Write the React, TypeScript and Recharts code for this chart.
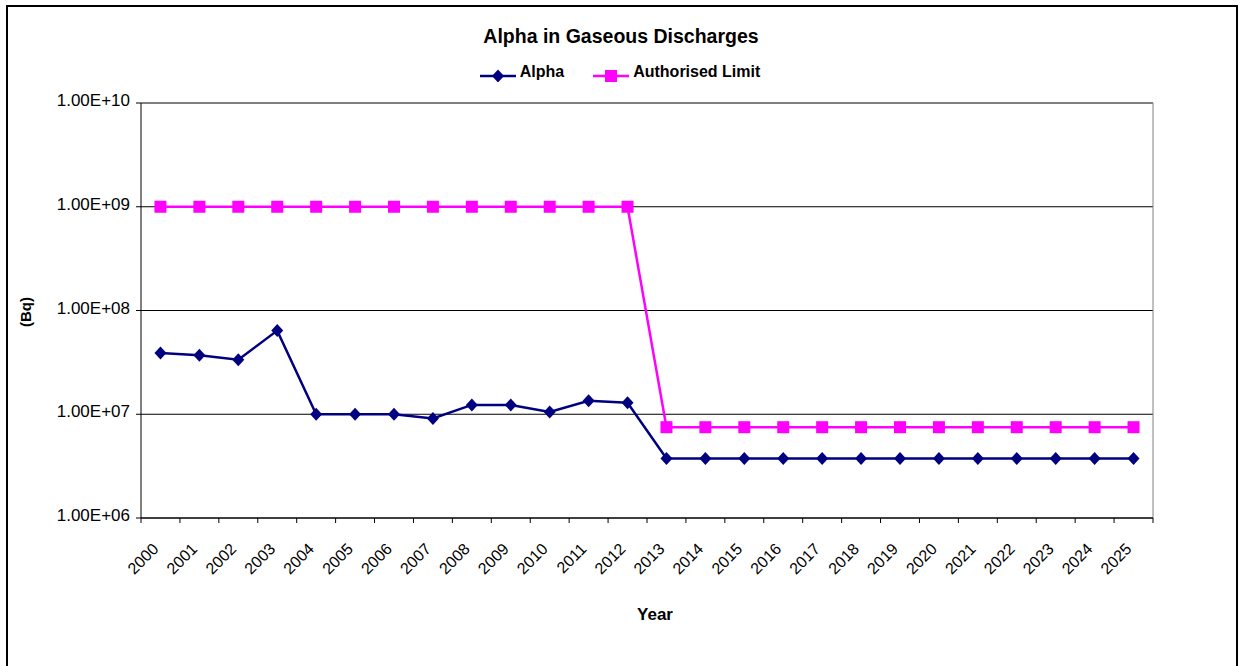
import React from 'react';
import {
  LineChart,
  Line,
  XAxis,
  YAxis,
  CartesianGrid,
  Legend,
} from 'recharts';

const years = [
  '2000', '2001', '2002', '2003', '2004', '2005', '2006', '2007', '2008',
  '2009', '2010', '2011', '2012', '2013', '2014', '2015', '2016', '2017',
  '2018', '2019', '2020', '2021', '2022', '2023', '2024', '2025',
];

// Bq per year
const alphaBq = [
  3.9e7, 3.7e7, 3.35e7, 6.4e7, 1.0e7, 1.0e7, 1.0e7, 9.1e6, 1.23e7,
  1.23e7, 1.05e7, 1.35e7, 1.29e7, 3.75e6, 3.75e6, 3.75e6, 3.75e6, 3.75e6,
  3.75e6, 3.75e6, 3.75e6, 3.75e6, 3.75e6, 3.75e6, 3.75e6, 3.75e6,
];

const limitBq = [
  1.0e9, 1.0e9, 1.0e9, 1.0e9, 1.0e9, 1.0e9, 1.0e9, 1.0e9, 1.0e9,
  1.0e9, 1.0e9, 1.0e9, 1.0e9, 7.5e6, 7.5e6, 7.5e6, 7.5e6, 7.5e6,
  7.5e6, 7.5e6, 7.5e6, 7.5e6, 7.5e6, 7.5e6, 7.5e6, 7.5e6,
];

const yTicks = [1e6, 1e7, 1e8, 1e9, 1e10];

const data = years.map((year, i) => ({ year, alpha: alphaBq[i], limit: limitBq[i] }));

const W = 1240;
const H = 666;
const MARGIN = { top: 103, right: 87, bottom: 0, left: 0 };
const Y_AXIS_W = 141;
const X_AXIS_H = 148;
const PLOT_W = W - Y_AXIS_W - MARGIN.right;
const HALF = PLOT_W / years.length / 2;
const FONT = '"Liberation Sans", Arial, sans-serif';

const NAVY = '#000080';
const MAGENTA = '#FF00FF';

const sci = (v: number) => {
  const e = Math.round(Math.log10(v));
  return `1.00E+${String(e).padStart(2, '0')}`;
};

function Diamond({ cx, cy, fill }: any) {
  if (cx == null || cy == null) return null;
  return <path d={`M${cx},${cy - 6.5}L${cx + 6},${cy}L${cx},${cy + 6.5}L${cx - 6},${cy}Z`} fill={fill} />;
}

function Square({ cx, cy, fill }: any) {
  if (cx == null || cy == null) return null;
  return <rect x={cx - 6} y={cy - 6} width={12} height={12} fill={fill} />;
}

function XTick({ x, y, payload, index }: any) {
  return (
    <g>
      <line x1={x - HALF} x2={x - HALF} y1={y} y2={y + 5} stroke="#000" />
      {index === years.length - 1 && (
        <line x1={x + HALF} x2={x + HALF} y1={y} y2={y + 5} stroke="#000" />
      )}
      <text
        x={x - 1}
        y={y + 32}
        transform={`rotate(-45 ${x - 1} ${y + 32})`}
        textAnchor="end"
        fontSize={16}
        fontFamily={FONT}
        fill="#000"
      >
        {payload.value}
      </text>
    </g>
  );
}

function YTick({ x, y, payload }: any) {
  return (
    <text x={x} y={y + 3} textAnchor="end" fontSize={17} fontFamily={FONT} fill="#000">
      {sci(payload.value)}
    </text>
  );
}

function LegendContent({ payload }: any) {
  return (
    <div style={{ display: 'flex', justifyContent: 'center', gap: 29, fontFamily: FONT }}>
      {(payload || []).map((e: any) => (
        <div key={e.value} style={{ display: 'flex', alignItems: 'flex-start', gap: 4 }}>
          <svg width={36} height={18} style={{ display: 'block' }}>
            <line x1={0} x2={36} y1={12} y2={12} stroke={e.color} strokeWidth={2.5} />
            {e.dataKey === 'alpha' ? (
              <Diamond cx={18} cy={12} fill={e.color} />
            ) : (
              <Square cx={18} cy={12} fill={e.color} />
            )}
          </svg>
          <span style={{ fontSize: 16, fontWeight: 'bold', lineHeight: '16px', color: '#000' }}>
            {e.value}
          </span>
        </div>
      ))}
    </div>
  );
}

export default function App() {
  return (
    <div style={{ position: 'absolute', left: 0, top: 0, width: W, height: H, background: '#fff' }}>
      <div
        style={{
          position: 'absolute',
          left: 6,
          top: 5,
          width: 1232,
          height: 680,
          border: '2px solid #000',
          boxSizing: 'border-box',
        }}
      />
      <div style={{ position: 'absolute', left: 0, top: 0 }}>
        <LineChart width={W} height={H} data={data} margin={MARGIN}>
          <text x={621} y={43} textAnchor="middle" fontSize={19.5} fontWeight="bold" fontFamily={FONT} fill="#000">
            Alpha in Gaseous Discharges
          </text>
          <CartesianGrid vertical={false} stroke="#000" />
          <CartesianGrid horizontal={false} verticalPoints={[W - MARGIN.right]} stroke="#808080" />
          <XAxis
            dataKey="year"
            padding={{ left: HALF, right: HALF }}
            interval={0}
            height={X_AXIS_H}
            tickLine={false}
            tickSize={0}
            tickMargin={0}
            axisLine={{ stroke: '#000' }}
            tick={<XTick />}
          />
          <YAxis
            type="number"
            scale="log"
            domain={[1e6, 1e10]}
            ticks={yTicks}
            allowDataOverflow
            interval={0}
            width={Y_AXIS_W}
            tickSize={5}
            tickMargin={6}
            tickLine={{ stroke: '#000' }}
            axisLine={{ stroke: '#000' }}
            tick={<YTick />}
          />
          <Legend
            verticalAlign="middle"
            align="center"
            layout="horizontal"
            wrapperStyle={{ top: 64, left: 0, width: W, margin: 0, padding: 0 }}
            content={<LegendContent />}
          />
          <Line
            dataKey="alpha"
            name="Alpha"
            stroke={NAVY}
            strokeWidth={2.5}
            dot={(p: any) => <Diamond key={`a-${p.index}`} cx={p.cx} cy={p.cy} fill={NAVY} />}
            activeDot={false}
            isAnimationActive={false}
          />
          <Line
            dataKey="limit"
            name="Authorised Limit"
            stroke={MAGENTA}
            strokeWidth={2.5}
            dot={(p: any) => <Square key={`l-${p.index}`} cx={p.cx} cy={p.cy} fill={MAGENTA} />}
            activeDot={false}
            isAnimationActive={false}
          />
          <text x={655} y={620} textAnchor="middle" fontSize={17} fontWeight="bold" fontFamily={FONT} fill="#000">
            Year
          </text>
          <text
            x={31}
            y={312}
            transform="rotate(-90 31 312)"
            textAnchor="middle"
            fontSize={15}
            fontWeight="bold"
            fontFamily={FONT}
            fill="#000"
          >
            (Bq)
          </text>
        </LineChart>
      </div>
    </div>
  );
}
